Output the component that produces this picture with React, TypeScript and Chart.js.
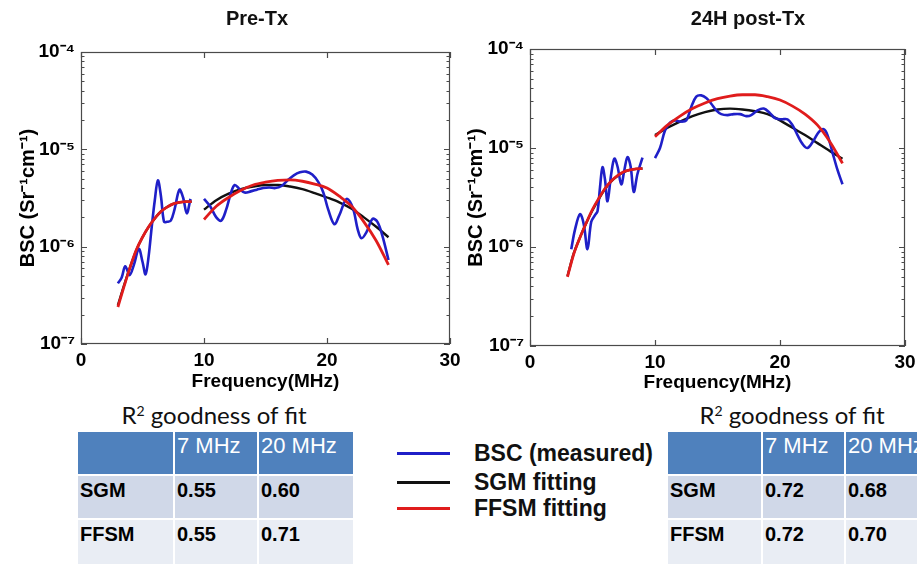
import React, { useEffect, useRef } from 'react';
import { Chart, registerables } from 'chart.js';

Chart.register(...registerables);

const FONT = "'Liberation Sans', Arial, Helvetica, sans-serif";
const CAL_FONT = "Lato, 'Open Sans', sans-serif";

// ---------- axis definitions ----------
const X_TICKS = [0, 10, 20, 30];
const Y_TICKS = [1e-7, 1e-6, 1e-5, 1e-4];
const Y_TICK_LABELS = ['10⁻⁷', '10⁻⁶', '10⁻⁵', '10⁻⁴'];
const X_TITLE = 'Frequency(MHz)';
const Y_TITLE = 'BSC (Sr⁻¹cm⁻¹)';

// ---------- frequencies of the fitted curves ----------
const FIT_LOW_FREQ = [3, 3.5, 4, 4.5, 5, 5.5, 6, 6.5, 7, 7.5, 8, 8.5, 9];
const FIT_HIGH_FREQ = [10, 11, 12, 13, 14, 15, 16, 17, 18, 19, 20, 21, 22, 23, 24, 25];

// ---------- Pre-Tx ----------
const PRE_LOW_FREQ = [3.0, 3.3, 3.6, 3.95, 4.3, 4.7, 5.0, 5.25, 5.5, 5.75, 6.0, 6.25, 6.5, 6.75, 7.0, 7.3, 7.6, 8.0, 8.3, 8.6, 8.9];
const PRE_LOW_BSC = [4.2e-7, 4.8e-7, 6.3e-7, 5.1e-7, 6.5e-7, 9.5e-7, 7.0e-7, 5.2e-7, 8.0e-7, 1.6e-6, 3.0e-6, 4.8e-6, 3.3e-6, 1.8e-6, 1.8e-6, 1.85e-6, 2.4e-6, 3.85e-6, 3.2e-6, 2.2e-6, 3.1e-6];
const PRE_LOW_SGM = [2.5e-7, 4.0e-7, 6.2e-7, 9.2e-7, 1.25e-6, 1.6e-6, 1.95e-6, 2.3e-6, 2.55e-6, 2.75e-6, 2.85e-6, 2.9e-6, 2.9e-6];
const PRE_LOW_FFSM = [2.4e-7, 3.9e-7, 6.2e-7, 9.3e-7, 1.25e-6, 1.6e-6, 1.95e-6, 2.3e-6, 2.55e-6, 2.75e-6, 2.85e-6, 2.9e-6, 2.9e-6];

const PRE_HIGH_FREQ = [10.0, 10.5, 11.0, 11.4, 11.8, 12.2, 12.5, 12.9, 13.3, 13.8, 14.3, 14.8, 15.3, 15.8, 16.3, 16.8, 17.3, 17.8, 18.3, 18.8, 19.3, 19.7, 20.1, 20.6, 21.0, 21.6, 22.1, 22.5, 22.8, 23.2, 23.7, 24.1, 24.5, 25.0];
const PRE_HIGH_BSC = [3.1e-6, 2.6e-6, 2.0e-6, 1.85e-6, 2.4e-6, 3.6e-6, 4.3e-6, 3.9e-6, 3.6e-6, 3.7e-6, 3.85e-6, 4.0e-6, 4.05e-6, 4.0e-6, 4.2e-6, 4.8e-6, 5.4e-6, 5.8e-6, 5.9e-6, 5.5e-6, 4.6e-6, 3.6e-6, 2.4e-6, 1.7e-6, 2.1e-6, 3.1e-6, 2.5e-6, 1.5e-6, 1.22e-6, 1.4e-6, 1.93e-6, 1.8e-6, 1.3e-6, 7.3e-7];
const PRE_HIGH_SGM = [2.4e-6, 3.0e-6, 3.5e-6, 3.9e-6, 4.15e-6, 4.3e-6, 4.3e-6, 4.15e-6, 3.9e-6, 3.55e-6, 3.2e-6, 2.85e-6, 2.45e-6, 2.0e-6, 1.6e-6, 1.25e-6];
const PRE_HIGH_FFSM = [1.9e-6, 2.6e-6, 3.2e-6, 3.8e-6, 4.3e-6, 4.6e-6, 4.8e-6, 4.85e-6, 4.7e-6, 4.4e-6, 4.0e-6, 3.3e-6, 2.6e-6, 1.8e-6, 1.15e-6, 6.5e-7];

// ---------- 24H post-Tx ----------
const POST_LOW_FREQ = [3.3, 3.6, 4.0, 4.3, 4.6, 4.9, 5.2, 5.4, 5.6, 5.8, 6.0, 6.2, 6.5, 6.75, 7.0, 7.3, 7.55, 7.8, 8.05, 8.3, 8.6, 9.0];
const POST_LOW_BSC = [9.5e-7, 1.5e-6, 2.15e-6, 1.7e-6, 9.5e-7, 1.8e-6, 2.1e-6, 2.3e-6, 4.0e-6, 6.4e-6, 4.8e-6, 2.9e-6, 5.5e-6, 7.8e-6, 6.5e-6, 4.3e-6, 6.0e-6, 8.1e-6, 6.5e-6, 3.6e-6, 5.5e-6, 8.0e-6];
const POST_LOW_SGM = [5.1e-7, 8.6e-7, 1.25e-6, 1.75e-6, 2.35e-6, 3.05e-6, 3.85e-6, 4.6e-6, 5.2e-6, 5.7e-6, 6.0e-6, 6.15e-6, 6.2e-6];
const POST_LOW_FFSM = [5.0e-7, 8.5e-7, 1.25e-6, 1.75e-6, 2.4e-6, 3.1e-6, 3.9e-6, 4.65e-6, 5.25e-6, 5.75e-6, 6.0e-6, 6.15e-6, 6.2e-6];

const POST_HIGH_FREQ = [10.0, 10.4, 10.8, 11.2, 11.6, 12.0, 12.5, 12.9, 13.3, 13.7, 14.1, 14.5, 14.9, 15.3, 15.8, 16.3, 16.8, 17.3, 17.7, 18.2, 18.7, 19.2, 19.6, 20.1, 20.6, 21.0, 21.4, 21.8, 22.2, 22.7, 23.1, 23.5, 23.8, 24.2, 24.6, 25.0];
const POST_HIGH_BSC = [7.9e-6, 1.0e-5, 1.5e-5, 1.8e-5, 1.9e-5, 1.85e-5, 1.9e-5, 2.6e-5, 3.3e-5, 3.4e-5, 3.2e-5, 2.8e-5, 2.4e-5, 2.2e-5, 2.15e-5, 2.2e-5, 2.2e-5, 2.1e-5, 2.15e-5, 2.4e-5, 2.5e-5, 2.25e-5, 2.0e-5, 1.95e-5, 1.95e-5, 1.7e-5, 1.35e-5, 1.1e-5, 1.0e-5, 1.2e-5, 1.45e-5, 1.55e-5, 1.35e-5, 9.0e-6, 6.0e-6, 4.3e-6];
const POST_HIGH_SGM = [1.35e-5, 1.6e-5, 1.85e-5, 2.1e-5, 2.3e-5, 2.45e-5, 2.5e-5, 2.45e-5, 2.35e-5, 2.2e-5, 1.9e-5, 1.6e-5, 1.35e-5, 1.12e-5, 9.3e-6, 7.8e-6];
const POST_HIGH_FFSM = [1.3e-5, 1.7e-5, 2.1e-5, 2.5e-5, 2.85e-5, 3.15e-5, 3.35e-5, 3.45e-5, 3.45e-5, 3.3e-5, 3.05e-5, 2.65e-5, 2.2e-5, 1.7e-5, 1.15e-5, 7.0e-6];

// ---------- tables / legend ----------
const CHART_TITLES = ['Pre-Tx', '24H post-Tx'];
const TABLE_COLUMNS = ['', '7 MHz', '20 MHz'];
const TABLE_ROWS = ['SGM', 'FFSM'];
const PRE_R2 = [[0.55, 0.60], [0.55, 0.71]];
const POST_R2 = [[0.72, 0.68], [0.72, 0.70]];
const LEGEND_LABELS = ['BSC (measured)', 'SGM fitting', 'FFSM fitting'];

const BLUE = '#1f1fc8';
const BLACK = '#111111';
const RED = '#e01c1c';
const LEGEND_COLORS = [BLUE, BLACK, RED];

type Panel = {
  lowFreq: number[]; lowBsc: number[]; lowSgm: number[]; lowFfsm: number[];
  highFreq: number[]; highBsc: number[]; highSgm: number[]; highFfsm: number[];
};

const PRE: Panel = {
  lowFreq: PRE_LOW_FREQ, lowBsc: PRE_LOW_BSC, lowSgm: PRE_LOW_SGM, lowFfsm: PRE_LOW_FFSM,
  highFreq: PRE_HIGH_FREQ, highBsc: PRE_HIGH_BSC, highSgm: PRE_HIGH_SGM, highFfsm: PRE_HIGH_FFSM,
};
const POST: Panel = {
  lowFreq: POST_LOW_FREQ, lowBsc: POST_LOW_BSC, lowSgm: POST_LOW_SGM, lowFfsm: POST_LOW_FFSM,
  highFreq: POST_HIGH_FREQ, highBsc: POST_HIGH_BSC, highSgm: POST_HIGH_SGM, highFfsm: POST_HIGH_FFSM,
};

type Geom = {
  left: number; width: number; height: number; padTop: number; padRight: number;
  yAxisWidth: number; xAxisHeight: number; yTitlePad: number; xTitlePad: number;
};

const LEFT_GEOM: Geom = { left: 0, width: 460, height: 400, padTop: 52, padRight: 10, yAxisWidth: 81, xAxisHeight: 56, yTitlePad: 16, xTitlePad: 7 };
const RIGHT_GEOM: Geom = { left: 460, width: 457, height: 400, padTop: 49, padRight: 12, yAxisWidth: 70, xAxisHeight: 54, yTitlePad: 4, xTitlePad: 6 };

function pts(xs: number[], ys: number[]) {
  return xs.map((x, i) => ({ x, y: ys[i] }));
}

const frameTicksPlugin = {
  id: 'frameTicks',
  afterDatasetsDraw(chart: any) {
    const { ctx, chartArea, scales } = chart;
    const { left, right, top, bottom } = chartArea;
    const xs = scales.x;
    const ys = scales.y;
    ctx.save();
    ctx.strokeStyle = '#4a4a4a';
    ctx.lineWidth = 1.2;
    ctx.strokeRect(Math.round(left) + 0.5, Math.round(top) + 0.5, Math.round(right - left) - 1, Math.round(bottom - top) - 1);
    ctx.beginPath();
    for (let d = 0; d < Y_TICKS.length - 1; d++) {
      for (let m = 1; m <= 9; m++) {
        const v = Y_TICKS[d] * m;
        const py = Math.round(ys.getPixelForValue(v)) + 0.5;
        const len = m === 1 ? 6 : 3.5;
        ctx.moveTo(left, py); ctx.lineTo(left + len, py);
        ctx.moveTo(right, py); ctx.lineTo(right - len, py);
      }
    }
    X_TICKS.forEach((v) => {
      const px = Math.round(xs.getPixelForValue(v)) + 0.5;
      ctx.moveTo(px, bottom); ctx.lineTo(px, bottom - 6);
      ctx.moveTo(px, top); ctx.lineTo(px, top + 6);
    });
    ctx.stroke();
    ctx.restore();
  },
};

function BscChart({ panel, geom }: { panel: Panel; geom: Geom }) {
  const ref = useRef<HTMLCanvasElement>(null);
  useEffect(() => {
    const canvas = ref.current;
    if (!canvas) return;
    const fit = { pointRadius: 0, fill: false, cubicInterpolationMode: 'monotone' as const };
    const meas = { pointRadius: 0, fill: false, tension: 0.35 };
    const chart = new Chart(canvas, {
      type: 'line',
      data: {
        datasets: [
          { label: 'FFSM fitting', data: pts(FIT_LOW_FREQ, panel.lowFfsm), borderColor: RED, borderWidth: 2.8, ...fit },
          { label: 'FFSM fitting', data: pts(FIT_HIGH_FREQ, panel.highFfsm), borderColor: RED, borderWidth: 2.8, ...fit },
          { label: 'BSC (measured)', data: pts(panel.lowFreq, panel.lowBsc), borderColor: BLUE, borderWidth: 2.6, ...meas },
          { label: 'BSC (measured)', data: pts(panel.highFreq, panel.highBsc), borderColor: BLUE, borderWidth: 2.6, ...meas },
          { label: 'SGM fitting', data: pts(FIT_LOW_FREQ, panel.lowSgm), borderColor: BLACK, borderWidth: 2.4, ...fit },
          { label: 'SGM fitting', data: pts(FIT_HIGH_FREQ, panel.highSgm), borderColor: BLACK, borderWidth: 2.4, ...fit },
        ],
      },
      options: {
        responsive: false,
        animation: false,
        devicePixelRatio: 1,
        layout: { padding: { top: geom.padTop, right: geom.padRight, left: 0, bottom: 0 } },
        plugins: { legend: { display: false }, tooltip: { enabled: false }, title: { display: false } },
        scales: {
          x: {
            type: 'linear',
            min: 0,
            max: 30,
            afterBuildTicks: (s: any) => { s.ticks = X_TICKS.map((v) => ({ value: v })); },
            afterFit: (s: any) => { s.height = geom.xAxisHeight; s.paddingLeft = 0; s.paddingRight = 0; },
            grid: { display: false, drawTicks: false },
            border: { display: false },
            ticks: {
              padding: 5, color: '#000', autoSkip: false, maxRotation: 0,
              font: { family: FONT, size: 19, weight: 'bold', lineHeight: 1.2 },
              callback: (v: any) => String(v),
            },
            title: {
              display: true, text: X_TITLE, color: '#000',
              font: { family: FONT, size: 19, weight: 'bold', lineHeight: 1.2 },
              padding: { top: 0, bottom: geom.xTitlePad },
            },
          },
          y: {
            type: 'logarithmic',
            min: Y_TICKS[0],
            max: Y_TICKS[Y_TICKS.length - 1],
            afterBuildTicks: (s: any) => { s.ticks = Y_TICKS.map((v) => ({ value: v, major: true })); },
            afterFit: (s: any) => { s.width = geom.yAxisWidth; s.paddingTop = 0; s.paddingBottom = 0; },
            grid: { display: false, drawTicks: false },
            border: { display: false },
            ticks: {
              padding: 6, color: '#000', autoSkip: false,
              font: { family: FONT, size: 19, weight: 'bold', lineHeight: 1.2 },
              callback: (_v: any, i: number) => Y_TICK_LABELS[i] ?? '',
            },
            title: {
              display: true, text: Y_TITLE, color: '#000',
              font: { family: FONT, size: 20, weight: 'bold', lineHeight: 1.2 },
              padding: { top: geom.yTitlePad, bottom: 0 },
            },
          },
        },
      } as any,
      plugins: [frameTicksPlugin],
    });
    return () => chart.destroy();
  }, [panel, geom]);
  return (
    <canvas
      ref={ref}
      width={geom.width}
      height={geom.height}
      style={{ position: 'absolute', left: geom.left, top: 0, width: geom.width, height: geom.height }}
    />
  );
}

function ChartTitle({ text, cx }: { text: string; cx: number }) {
  return (
    <div style={{ position: 'absolute', left: cx - 150, width: 300, top: 6, textAlign: 'center', font: `bold 20px ${FONT}`, lineHeight: '24px', color: '#111' }}>
      {text}
    </div>
  );
}

function R2Table({ x0, y0, colWidths, titleCx, values }: { x0: number; y0: number; colWidths: number[]; titleCx: number; values: number[][] }) {
  const rowHeights = [44, 44, 48];
  const cells: React.ReactNode[] = [];
  let y = y0;
  for (let r = 0; r < 3; r++) {
    let x = x0;
    for (let c = 0; c < 3; c++) {
      const header = r === 0;
      const text = header ? TABLE_COLUMNS[c] : c === 0 ? TABLE_ROWS[r - 1] : values[r - 1][c - 1].toFixed(2);
      cells.push(
        <div
          key={`${r}-${c}`}
          style={{
            position: 'absolute', left: x, top: y, width: colWidths[c] - 2, height: rowHeights[r] - 2,
            background: header ? '#4f81bd' : r === 1 ? '#d0d8e8' : '#e9edf4',
            color: header ? '#fff' : '#000',
            font: header ? `22px ${FONT}` : `bold 20px ${FONT}`,
            lineHeight: '26px', paddingLeft: 2, paddingTop: 1, boxSizing: 'border-box', whiteSpace: 'nowrap',
          }}
        >
          {text}
        </div>
      );
      x += colWidths[c];
    }
    y += rowHeights[r];
  }
  return (
    <>
      <div style={{ position: 'absolute', left: titleCx - 150, width: 300, top: 400, textAlign: 'center', font: `24px ${CAL_FONT}`, lineHeight: '30px', color: '#111' }}>
        R<sup style={{ fontSize: 14, verticalAlign: 'top', lineHeight: '22px' }}>2</sup> goodness of fit
      </div>
      {cells}
    </>
  );
}

function Legend() {
  const rows = [453, 482, 508];
  return (
    <>
      {LEGEND_LABELS.map((label, i) => (
        <React.Fragment key={label}>
          <div style={{ position: 'absolute', left: 397, top: rows[i] - 1, width: 53, height: 2.5, background: LEGEND_COLORS[i] }} />
          <div style={{ position: 'absolute', left: 474, top: rows[i] - 14, font: `bold 23px ${FONT}`, lineHeight: '28px', color: '#111', whiteSpace: 'nowrap' }}>
            {label}
          </div>
        </React.Fragment>
      ))}
    </>
  );
}

export default function App() {
  return (
    <div style={{ position: 'absolute', left: 0, top: 0, width: 917, height: 564, overflow: 'hidden', background: '#fff', fontFamily: FONT }}>
      <BscChart panel={PRE} geom={LEFT_GEOM} />
      <BscChart panel={POST} geom={RIGHT_GEOM} />
      <ChartTitle text={CHART_TITLES[0]} cx={257} />
      <ChartTitle text={CHART_TITLES[1]} cx={748} />
      <R2Table x0={78} y0={432} colWidths={[97, 84, 96]} titleCx={214} values={PRE_R2} />
      <R2Table x0={668} y0={432} colWidths={[95, 83, 100]} titleCx={792} values={POST_R2} />
      <Legend />
    </div>
  );
}
